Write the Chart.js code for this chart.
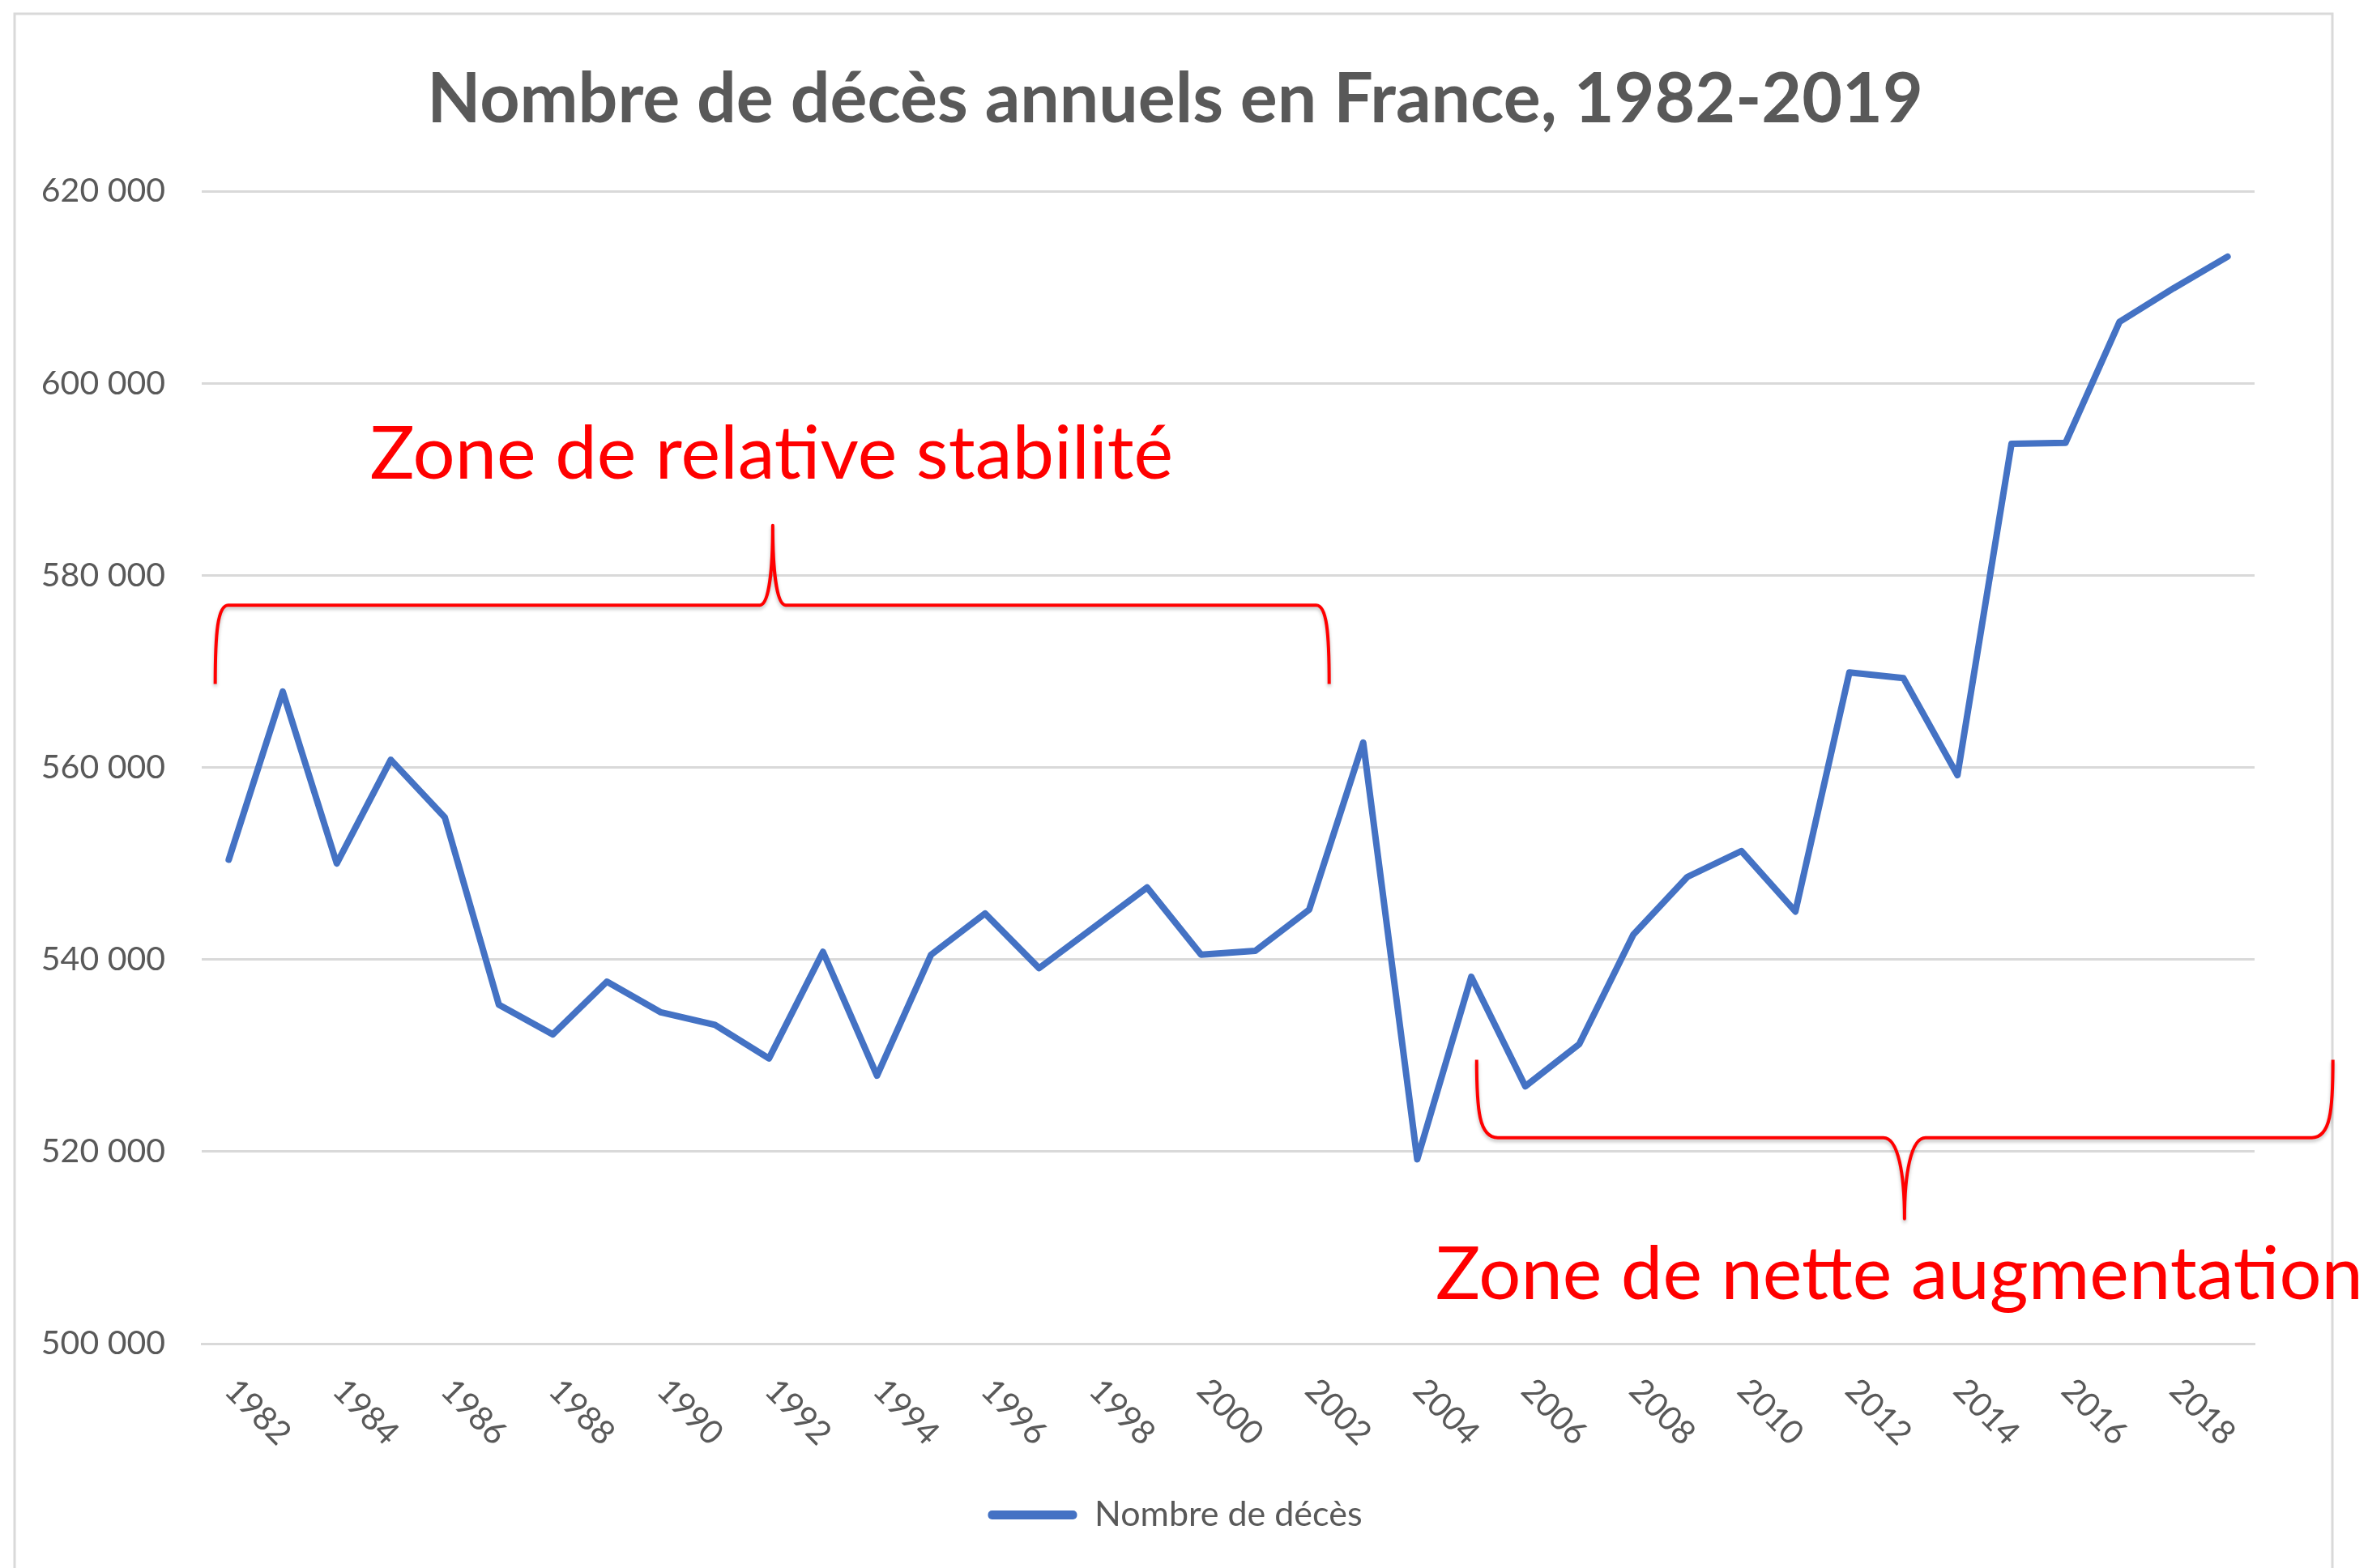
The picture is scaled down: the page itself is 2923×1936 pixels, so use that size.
<!DOCTYPE html>
<html lang="fr">
<head>
<meta charset="utf-8">
<title>Nombre de décès annuels en France, 1982-2019</title>
<script src="https://cdn.jsdelivr.net/npm/chart.js@4.4.1/dist/chart.umd.min.js"></script>
<style>
    html, body { margin: 0; padding: 0; background: #ffffff; }
    #deathChart { display: block; }
</style>
</head>
<body>
<canvas id="deathChart" width="2923" height="1936"></canvas>
<script>
// Données
const years = ['1982', '1983', '1984', '1985', '1986', '1987', '1988', '1989', '1990', '1991',
               '1992', '1993', '1994', '1995', '1996', '1997', '1998', '1999', '2000', '2001',
               '2002', '2003', '2004', '2005', '2006', '2007', '2008', '2009', '2010', '2011',
               '2012', '2013', '2014', '2015', '2016', '2017', '2018', '2019'];

const deaths = [550400, 567900, 550000, 560800, 554800, 535300, 532200, 537700, 534500, 533200,
                529700, 540800, 527900, 540500, 544800, 539100, 543300, 547500, 540500, 540900,
                545200, 562600, 519200, 538200, 526800, 531200, 542600, 548600, 551300, 545000,
                569900, 569300, 559200, 593700, 593800, 606400, 609900, 613200];

const yTicks = [500000, 520000, 540000, 560000, 580000, 600000, 620000];

const xTickLabels = ['1982', '1984', '1986', '1988', '1990', '1992', '1994', '1996', '1998', '2000',
                     '2002', '2004', '2006', '2008', '2010', '2012', '2014', '2016', '2018'];

// Annotations en rouge (positions exprimées en index d'année / valeur de l'axe)
const zoneStable = { text: 'Zone de relative stabilité', idx: 2.61, value: 590100 };
const zoneHausse = { text: 'Zone de nette augmentation', idx: 22.34, value: 504650 };

const braceStable = { from: -0.25, to: 20.37, tip: 10.07, line: 576900, ends: 568700, point: 585200, round: 16 };
const braceHausse = { from: 23.10, to: 38.95, tip: 31.02, line: 521450, ends: 529560, point: 513000, round: 26 };

const gris = '#595959';
const rouge = '#FF0000';
const bleu = '#4472C4';

Chart.defaults.font.family = 'Lato';
Chart.defaults.color = gris;

function sepMilliers(v) {
    return String(v).replace(/\B(?=(\d{3})+(?!\d))/g, ' ');
}

// Pixel d'un index fractionnaire sur l'axe des années
function xIndex(chart, idx) {
    const s = chart.scales.x;
    const step = s.getPixelForValue(1) - s.getPixelForValue(0);
    return s.getPixelForValue(0) + idx * step;
}

// Accolade horizontale : extrémités vers "ends", pointe vers "point"
function drawBrace(chart, b) {
    const ctx = chart.ctx;
    const y = chart.scales.y;
    const x0 = xIndex(chart, b.from);
    const x1 = xIndex(chart, b.to);
    const xt = xIndex(chart, b.tip);
    const yl = y.getPixelForValue(b.line);
    const ye = y.getPixelForValue(b.ends);
    const yp = y.getPixelForValue(b.point);
    const r = b.round;

    ctx.save();
    ctx.strokeStyle = rouge;
    ctx.lineWidth = 4;
    ctx.lineJoin = 'round';
    ctx.shadowColor = 'rgba(0, 0, 0, 0.25)';
    ctx.shadowOffsetY = 3;
    ctx.shadowBlur = 4;
    ctx.beginPath();
    ctx.moveTo(x0, ye);
    ctx.bezierCurveTo(x0, yl + (ye - yl) * 0.35, x0 + 3, yl, x0 + r, yl);
    ctx.lineTo(xt - r, yl);
    ctx.bezierCurveTo(xt - r * 0.3, yl, xt, yl + (yp - yl) * 0.45, xt, yp);
    ctx.bezierCurveTo(xt, yl + (yp - yl) * 0.45, xt + r * 0.3, yl, xt + r, yl);
    ctx.lineTo(x1 - r, yl);
    ctx.bezierCurveTo(x1 - 3, yl, x1, yl + (ye - yl) * 0.35, x1, ye);
    ctx.stroke();
    ctx.restore();
}

function drawZoneText(chart, z) {
    const ctx = chart.ctx;
    ctx.save();
    ctx.fillStyle = rouge;
    ctx.font = '92px Lato';
    ctx.textAlign = 'left';
    ctx.textBaseline = 'alphabetic';
    ctx.fillText(z.text, xIndex(chart, z.idx), chart.scales.y.getPixelForValue(z.value));
    ctx.restore();
}

// Fond blanc et cadre gris du graphique
const cadrePlugin = {
    id: 'cadre',
    beforeDraw(chart) {
        const ctx = chart.ctx;
        ctx.save();
        ctx.fillStyle = '#ffffff';
        ctx.fillRect(0, 0, chart.width, chart.height);
        ctx.strokeStyle = '#D9D9D9';
        ctx.lineWidth = 3;
        ctx.strokeRect(18, 17, 2861, 2100);
        ctx.restore();
    }
};

// Étiquettes des années inclinées vers le bas (comme dans Excel)
const anneesPlugin = {
    id: 'annees',
    afterDraw(chart) {
        const ctx = chart.ctx;
        const s = chart.scales.x;
        ctx.save();
        ctx.fillStyle = gris;
        ctx.font = '41px Lato';
        ctx.textAlign = 'left';
        ctx.textBaseline = 'middle';
        xTickLabels.forEach((lab) => {
            const i = years.indexOf(lab);
            ctx.save();
            ctx.translate(s.getPixelForValue(i) + 2, chart.chartArea.bottom + 51);
            ctx.rotate(Math.PI / 4);
            ctx.fillText(lab, 0, 0);
            ctx.restore();
        });
        ctx.restore();

        drawBrace(chart, braceStable);
        drawBrace(chart, braceHausse);
        drawZoneText(chart, zoneStable);
        drawZoneText(chart, zoneHausse);
    }
};

let chartInstance = null;

function GenerateLine() {
    const ctx = document.getElementById('deathChart').getContext('2d');

    if (chartInstance) {
        chartInstance.destroy();
    }

    chartInstance = new Chart(ctx, {
        type: 'line',
        data: {
            labels: years,
            datasets: [{
                label: 'Nombre de décès',
                data: deaths,
                borderColor: bleu,
                backgroundColor: bleu,
                borderWidth: 8,
                borderCapStyle: 'round',
                borderJoinStyle: 'round',
                pointRadius: 0,
                tension: 0
            }]
        },
        options: {
            responsive: false,
            animation: false,
            layout: {
                padding: { left: 18, right: 40, top: 0, bottom: 34 }
            },
            plugins: {
                title: {
                    display: true,
                    text: 'Nombre de décès annuels en France, 1982-2019',
                    color: gris,
                    font: { size: 86, weight: 'bold' },
                    padding: { top: 72, bottom: 61 }
                },
                legend: {
                    position: 'bottom',
                    labels: {
                        color: gris,
                        font: { size: 43 },
                        boxWidth: 110,
                        boxHeight: 11,
                        useBorderRadius: true,
                        borderRadius: 5,
                        generateLabels(chart) {
                            const items = Chart.defaults.plugins.legend.labels.generateLabels(chart);
                            items.forEach((it) => {
                                it.fillStyle = bleu;
                                it.strokeStyle = bleu;
                                it.lineWidth = 0;
                            });
                            return items;
                        }
                    }
                },
                tooltip: { enabled: false }
            },
            scales: {
                x: {
                    offset: true,
                    grid: { display: false, drawTicks: false },
                    border: { display: true, color: '#D9D9D9', width: 3 },
                    ticks: { display: false },
                    afterFit(scale) { scale.height = 180; }
                },
                y: {
                    min: 500000,
                    max: 620000,
                    grid: { color: '#D9D9D9', lineWidth: 3, drawTicks: false },
                    border: { display: false },
                    ticks: {
                        padding: 45,
                        color: gris,
                        font: { size: 41 },
                        callback: (v) => sepMilliers(v)
                    },
                    afterBuildTicks(scale) {
                        scale.ticks = yTicks.map((v) => ({ value: v }));
                    },
                    afterFit(scale) { scale.width = 231; }
                },
                yDroite: {
                    position: 'right',
                    display: true,
                    grid: { display: false, drawTicks: false },
                    border: { display: false },
                    ticks: { display: false },
                    afterFit(scale) { scale.width = 100; }
                }
            }
        },
        plugins: [cadrePlugin, anneesPlugin]
    });
}

GenerateLine();
</script>
</body>
</html>
